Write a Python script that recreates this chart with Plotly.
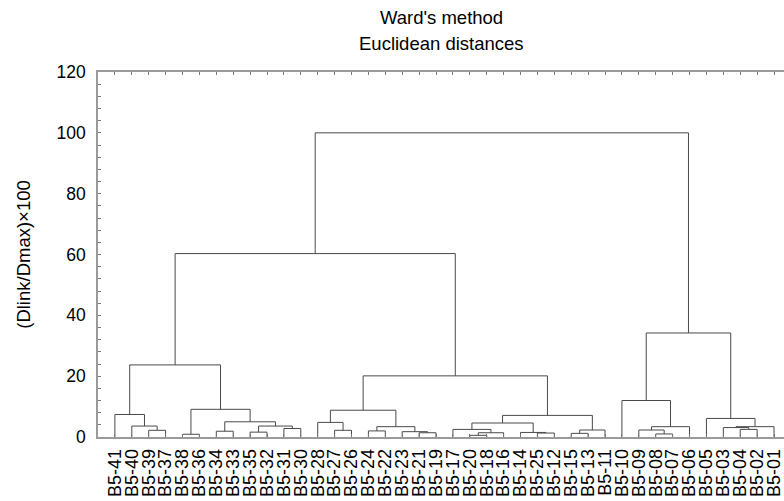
import plotly.graph_objects as go

# Leaf order along the x axis (left to right)
leaf_labels = ["B5-41", "B5-40", "B5-39", "B5-37", "B5-38", "B5-36", "B5-34", "B5-33",
               "B5-35", "B5-32", "B5-31", "B5-30", "B5-28", "B5-27", "B5-26", "B5-24",
               "B5-22", "B5-23", "B5-21", "B5-19", "B5-17", "B5-20", "B5-18", "B5-16",
               "B5-14", "B5-25", "B5-12", "B5-15", "B5-13", "B5-11", "B5-10", "B5-09",
               "B5-08", "B5-07", "B5-06", "B5-05", "B5-03", "B5-04", "B5-02", "B5-01"]

# Agglomeration steps: cluster C<k> = merge_left[k] + merge_right[k] at merge_height[k]
merge_left = ["B5-39", "B5-40", "B5-41", "B5-38", "B5-34", "B5-35", "B5-31", "C5", "C4", "C3",
              "C2", "B5-27", "B5-28", "B5-24", "B5-21", "B5-23", "C13", "C12", "B5-20", "C18",
              "B5-17", "B5-25", "B5-14", "C20", "B5-15", "C24", "C23", "C17", "C10", "B5-08",
              "B5-09", "C30", "B5-10", "B5-04", "B5-03", "C34", "B5-05", "C32", "C28"]
merge_right = ["B5-37", "C0", "C1", "B5-36", "B5-33", "B5-32", "B5-30", "C6", "C7", "C8",
               "C9", "B5-26", "C11", "B5-22", "B5-19", "C14", "C15", "C16", "B5-18", "B5-16",
               "C19", "B5-12", "C21", "C22", "B5-13", "B5-11", "C25", "C26", "C27", "B5-07",
               "C29", "B5-06", "C31", "B5-02", "C33", "B5-01", "C35", "C36", "C37"]
merge_height = [2.2, 3.6, 7.4, 0.9, 1.9, 1.6, 2.8, 3.6, 5.0, 9.1,
                23.7, 2.2, 4.8, 2.0, 1.4, 1.75, 3.4, 8.8, 0.55, 1.4,
                2.5, 1.3, 1.5, 4.6, 1.2, 2.3, 7.1, 20.1, 60.3, 1.0,
                2.3, 3.4, 12.0, 2.5, 3.1, 3.4, 6.1, 34.2, 100.0]

y_ticks = [0, 20, 40, 60, 80, 100, 120]

# Build dendrogram links from the tree
pos = {lab: i for i, lab in enumerate(leaf_labels)}
hgt = {lab: 0.0 for lab in leaf_labels}
xs, ys = [], []
for k, (a, b, h) in enumerate(zip(merge_left, merge_right, merge_height)):
    xa, xb = pos[a], pos[b]
    xs += [xa, xa, xb, xb, None]
    ys += [hgt[a], h, h, hgt[b], None]
    pos[f"C{k}"] = (xa + xb) / 2
    hgt[f"C{k}"] = h

font_family = "Arial, Liberation Sans, sans-serif"

fig = go.Figure()
fig.add_trace(go.Scatter(x=xs, y=ys, mode="lines",
                         line=dict(color="#4a4a4a", width=1),
                         hoverinfo="skip", showlegend=False, cliponaxis=False))

fig.update_layout(
    width=784, height=501,
    margin=dict(l=98, r=0, t=72, b=64, autoexpand=False),
    paper_bgcolor="white", plot_bgcolor="white",
    font=dict(family=font_family, size=17, color="black"),
    showlegend=False,
    annotations=[
        dict(text="Ward's method", xref="paper", yref="paper", x=0.5, y=(365 - 17 + 72) / 365,
             xanchor="center", yanchor="middle", showarrow=False, font=dict(size=18.5)),
        dict(text="Euclidean distances", xref="paper", yref="paper", x=0.5, y=(365 - 43 + 72) / 365,
             xanchor="center", yanchor="middle", showarrow=False, font=dict(size=18.5)),
    ],
)

fig.update_xaxes(
    range=[-1.0, 39.59], showgrid=False, zeroline=False,
    showline=True, linecolor="#9a9a9a", linewidth=1.5, mirror="ticks",
    ticks="inside", ticklen=3, tickcolor="#777777",
    tickvals=list(range(len(leaf_labels))), ticktext=leaf_labels, tickangle=-90,
    ticklabelstandoff=3, tickfont=dict(size=18),
)
fig.update_yaxes(
    range=[0, 120], showgrid=False, zeroline=False,
    showline=True, linecolor="#9a9a9a", linewidth=1.5,
    ticks="inside", ticklen=3, tickcolor="#777777",
    tickvals=y_ticks, tickfont=dict(size=17.5), ticklabelstandoff=7,
    minor=dict(dtick=4, ticks="inside", ticklen=3, tickcolor="#777777", showgrid=False),
    title=dict(text="(Dlink/Dmax)×100", font=dict(size=18.5), standoff=21),
)

fig.write_html("out.html")
